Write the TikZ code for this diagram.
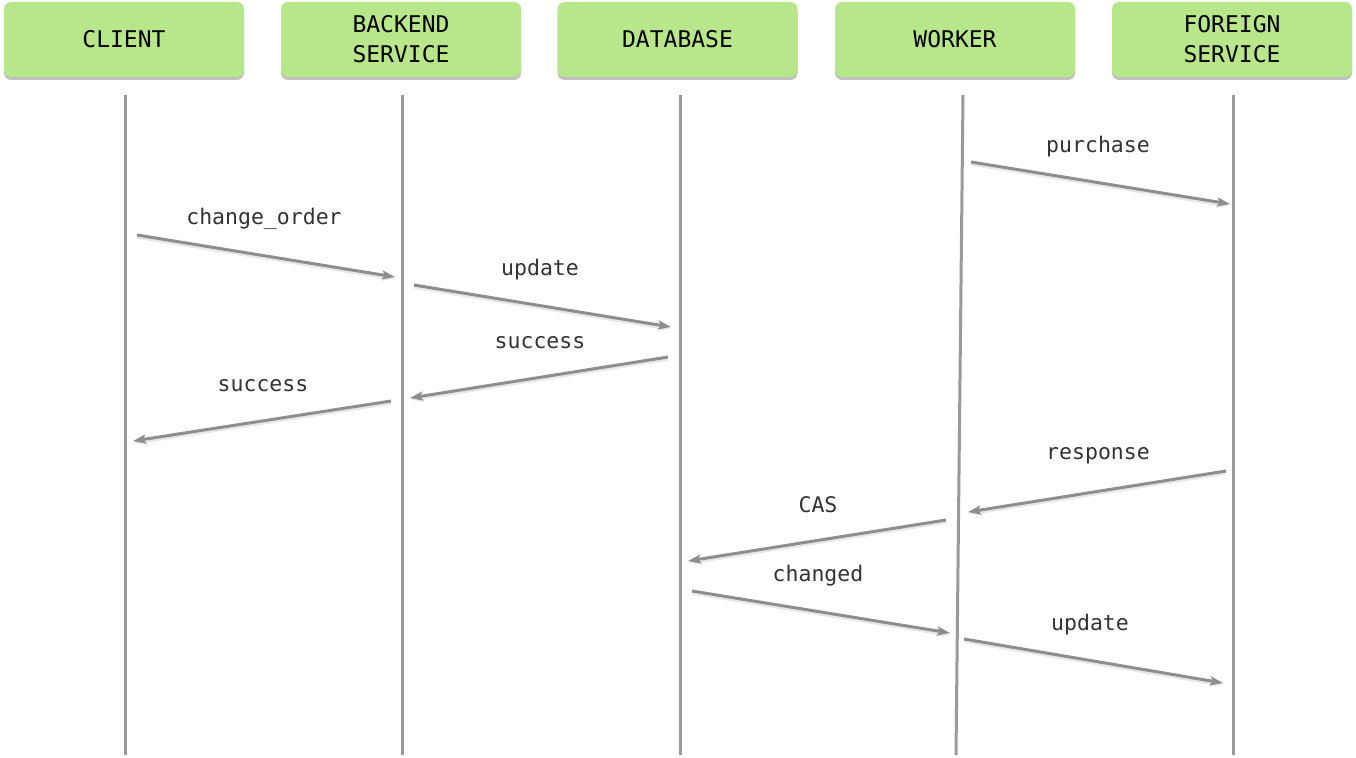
\documentclass[tikz,border=0pt]{standalone}
\usepackage{fontspec}
\newfontfamily\monofont{DejaVu Sans Mono}
\usetikzlibrary{shadows,arrows.meta}
\definecolor{boxgreen}{HTML}{B8E68A}
\definecolor{lifegray}{HTML}{9A9A9A}
\definecolor{arrowgray}{HTML}{8E8E8E}
\definecolor{labelgray}{HTML}{333333}
\tikzset{
  actor/.style={draw=none, fill=boxgreen, rounded corners=7pt, minimum width=240pt, minimum height=75pt,
    align=center, font=\monofont\fontsize{23}{30}\selectfont, text=black,
    drop shadow={shadow xshift=0pt, shadow yshift=-3pt, opacity=0.4, fill=black!60}},
  lifeline/.style={draw=lifegray, line width=3pt},
  msg/.style={draw=arrowgray, line width=3pt, -{Stealth[length=13pt,width=9pt,inset=3pt]},
    preaction={draw=black!25, line width=4.5pt, transform canvas={yshift=-1.5pt}, opacity=0.35, -{Stealth[length=13pt,width=9pt,inset=3pt]}}},
  msglabel/.style={font=\monofont\fontsize{21.5}{24}\selectfont, text=labelgray}
}
\begin{document}
\begin{tikzpicture}[x=1pt,y=-1pt]
\useasboundingbox (0,0) rectangle (1356,757);
\fill[white] (0,0) rectangle (1356,757);
% actors
\node[actor] (client) at (124,39.5) {CLIENT};
\node[actor] (backend) at (401,39.5) {BACKEND\\SERVICE};
\node[actor] (db) at (677.5,39.5) {DATABASE};
\node[actor] (worker) at (955,39.5) {WORKER};
\node[actor] (foreign) at (1232,39.5) {FOREIGN\\SERVICE};
% lifelines
\coordinate (cT) at (125,95); \coordinate (cB) at (125,755);
\coordinate (bT) at (402,95); \coordinate (bB) at (402,755);
\coordinate (dT) at (680,95); \coordinate (dB) at (680,755);
\coordinate (wT) at (963,95); \coordinate (wB) at (956,755);
\coordinate (fT) at (1233,95); \coordinate (fB) at (1233,755);
\draw[lifeline] (cT) -- (cB);
\draw[lifeline] (bT) -- (bB);
\draw[lifeline] (dT) -- (dB);
\draw[lifeline] (wT) -- (wB);
\draw[lifeline] (fT) -- (fB);
% message end points
\coordinate (m1s) at (971,162);  \coordinate (m1e) at (1230,204);
\coordinate (m2s) at (137,235);  \coordinate (m2e) at (395,277);
\coordinate (m3s) at (414,285);  \coordinate (m3e) at (671,327);
\coordinate (m4s) at (668,357);  \coordinate (m4e) at (410,398);
\coordinate (m5s) at (391,401);  \coordinate (m5e) at (133,441);
\coordinate (m6s) at (1226,471); \coordinate (m6e) at (968,512);
\coordinate (m7s) at (946,520);  \coordinate (m7e) at (688,561);
\coordinate (m8s) at (692,591);  \coordinate (m8e) at (950,633);
\coordinate (m9s) at (964,639);  \coordinate (m9e) at (1223,683);
\draw[msg] (m1s) -- (m1e);
\draw[msg] (m2s) -- (m2e);
\draw[msg] (m3s) -- (m3e);
\draw[msg] (m4s) -- (m4e);
\draw[msg] (m5s) -- (m5e);
\draw[msg] (m6s) -- (m6e);
\draw[msg] (m7s) -- (m7e);
\draw[msg] (m8s) -- (m8e);
\draw[msg] (m9s) -- (m9e);
% labels
\node[msglabel] (l1) at (1098,147) {purchase};
\node[msglabel] (l2) at (264,219) {change\_order};
\node[msglabel] (l3) at (540,270) {update};
\node[msglabel] (l4) at (540,343) {success};
\node[msglabel] (l5) at (263,386) {success};
\node[msglabel] (l6) at (1098,456) {response};
\node[msglabel] (l7) at (818,505) {CAS};
\node[msglabel] (l8) at (818,576) {changed};
\node[msglabel] (l9) at (1090,625) {update};
\end{tikzpicture}
\end{document}
